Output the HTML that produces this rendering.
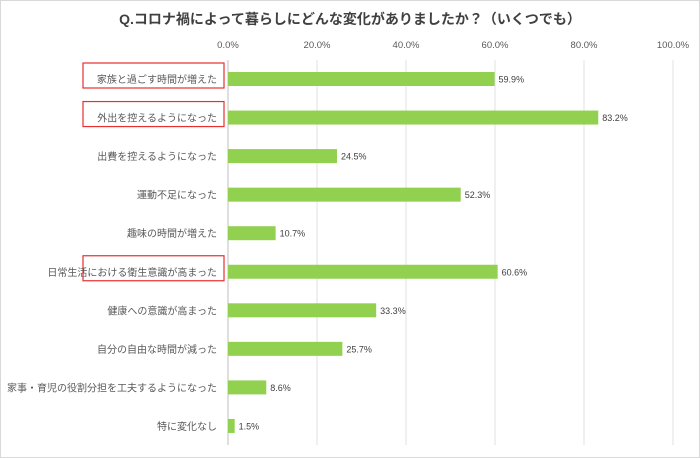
<!DOCTYPE html>
<html><head><meta charset="utf-8"><style>
body{margin:0;background:#fff}
svg{display:block;font-family:"Liberation Sans","Noto Sans CJK JP",sans-serif}
</style></head><body>
<svg id="c" width="700" height="458"></svg>
<script>
const categories=["家族と過ごす時間が増えた","外出を控えるようになった","出費を控えるようになった","運動不足になった","趣味の時間が増えた","日常生活における衛生意識が高まった","健康への意識が高まった","自分の自由な時間が減った","家事・育児の役割分担を工夫するようになった","特に変化なし"];
const values=[59.9,83.2,24.5,52.3,10.7,60.6,33.3,25.7,8.6,1.5];
const highlighted=[true,true,false,false,false,true,false,false,false,false];
const ticks=[0,20,40,60,80,100];
const NS="http://www.w3.org/2000/svg",svg=document.getElementById('c');
const x=v=>228+v*4.45, y=i=>79+i*38.55;
function el(t,a,txt){const e=document.createElementNS(NS,t);for(const k in a)e.setAttribute(k,a[k]);if(txt!=null)e.textContent=txt;svg.appendChild(e);return e;}
let b=el('rect',{x:0.5,y:0.5,width:699,height:457,fill:'#fff',stroke:'#d9d9d9'});


let t=el('text',{x:350,y:24,'text-anchor':'middle','font-size':14,'font-weight':'bold',fill:'#404040'},'Q.コロナ禍によって暮らしにどんな変化がありましたか？（いくつでも）');


ticks.forEach(v=>{
 let g=el('line',{x1:x(v),x2:x(v),y1:60,y2:445,stroke:v===0?'#bfbfbf':'#e0e0e0'});
 
 
 let l=el('text',{x:x(v),y:48,'text-anchor':'middle','font-size':9.5,fill:'#595959'},v.toFixed(1)+'%');
 
 
});
categories.forEach((c,i)=>{
 const cy=y(i);
 if(highlighted[i]){
  let r=el('rect',{x:83,y:cy-16,width:141,height:25,fill:'none',stroke:'#e83030','stroke-width':1.2});
  
  
 }
 let l=el('text',{x:217,y:cy+4,'text-anchor':'end','font-size':10,fill:'#595959'},c);
 
 
 let bar=el('rect',{x:x(0),y:cy-7,width:x(values[i])-x(0),height:14,fill:'#92d050'});
 
 
 let v=el('text',{x:x(values[i])+4,y:cy+3.5,'font-size':9,fill:'#404040'},values[i].toFixed(1)+'%');
 
 
});
</script>
</body></html>
